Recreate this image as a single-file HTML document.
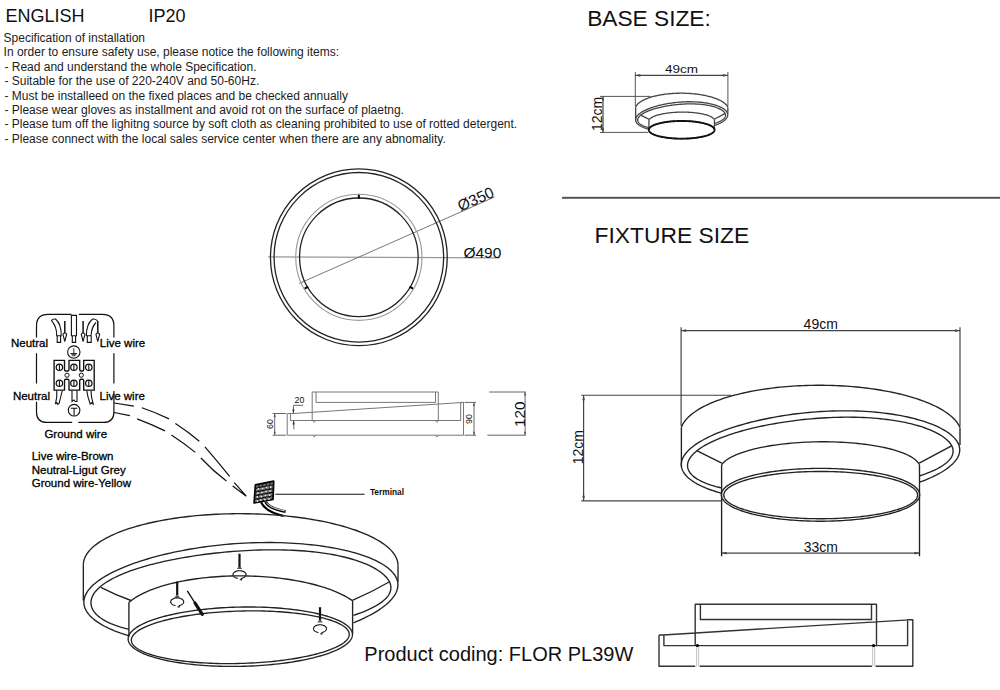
<!DOCTYPE html>
<html><head><meta charset="utf-8"><style>
html,body{margin:0;padding:0;background:#fff;width:1000px;height:690px;overflow:hidden}
svg{display:block}
text{font-family:"Liberation Sans",sans-serif}
</style></head><body>
<svg width="1000" height="690" viewBox="0 0 1000 690">
<text x="5.4" y="21.6" font-size="18" fill="#111" >ENGLISH</text>
<text x="148.5" y="21.6" font-size="18" fill="#111" >IP20</text>
<text x="3.6" y="41.9" font-size="12" fill="#1c1c1c" >Specification of installation</text>
<text x="3.6" y="55.8" font-size="12" fill="#1c1c1c" >In order to ensure safety use, please notice the following items:</text>
<text x="4.4" y="70.6" font-size="12" fill="#1c1c1c" >- Read and understand the whole Specification.</text>
<text x="4.4" y="84.5" font-size="12" fill="#1c1c1c" >- Suitable for the use of 220-240V and 50-60Hz.</text>
<text x="4.4" y="99.7" font-size="12" fill="#1c1c1c" >- Must be installeed on the fixed places and be checked annually</text>
<text x="4.4" y="113.7" font-size="12" fill="#1c1c1c" >- Please wear gloves as installment and avoid rot on the surface of plaetng.</text>
<text x="4.4" y="128.0" font-size="12" fill="#1c1c1c" >- Please tum off the lighitng source by soft cloth as cleaning prohibited to use of rotted detergent.</text>
<text x="4.4" y="142.8" font-size="12" fill="#1c1c1c" >- Please connect with the local sales service center when there are any abnomality.</text>
<text x="587.2" y="26.3" font-size="22" textLength="123.6" lengthAdjust="spacingAndGlyphs" fill="#111">BASE SIZE:</text>
<text x="594.6" y="243.2" font-size="22.8" fill="#111" >FIXTURE SIZE</text>
<rect x="562" y="196.8" width="438" height="2" fill="#555"/>
<text x="364.3" y="661" font-size="20" fill="#111" >Product coding: FLOR PL39W</text>
<path d="M681.1,327.3 L681.1,426 M960,327.3 L960,426 M581.3,395.25 L731,395.25 M581.3,500.8 L721.6,500.8" stroke="#444" stroke-width="1.2" fill="none"/>
<path d="M681.1,330.6 L960,330.6" stroke="#444" stroke-width="1.3" fill="none"/><g fill="#444"><path d="M681.10,330.60 L686.10,329.30 L686.10,331.90 Z"/><path d="M960.00,330.60 L955.00,331.90 L955.00,329.30 Z"/></g>
<path d="M583.6,395.25 L583.6,500.8" stroke="#444" stroke-width="1.2" fill="none"/><g fill="#444"><path d="M583.60,395.25 L584.90,400.25 L582.30,400.25 Z"/><path d="M583.60,500.80 L582.30,495.80 L584.90,495.80 Z"/></g>
<path d="M721.6,553.1 L919.5,553.1" stroke="#444" stroke-width="1.2" fill="none"/><g fill="#444"><path d="M721.60,553.10 L726.60,551.80 L726.60,554.40 Z"/><path d="M919.50,553.10 L914.50,554.40 L914.50,551.80 Z"/></g>
<text x="803.6" y="328.7" font-size="14" fill="#111" >49cm</text>
<text x="803.8" y="551.6" font-size="14" fill="#111" >33cm</text>
<text transform="translate(583.3,464.3) rotate(-90)" font-size="14" fill="#111">12cm</text>
<path d="M635.3,72 L635.3,106 M727.9,72 L727.9,106 M600,96.4 L650.4,96.4 M600,132.4 L648.3,132.4" stroke="#555" stroke-width="1" fill="none"/>
<path d="M635.3,75.4 L727.9,75.4" stroke="#444" stroke-width="1.3" fill="none"/><g fill="#444"><path d="M635.30,75.40 L640.30,74.10 L640.30,76.70 Z"/><path d="M727.90,75.40 L722.90,76.70 L722.90,74.10 Z"/></g>
<path d="M603,96.4 L603,132.4" stroke="#444" stroke-width="1.2" fill="none"/><g fill="#444"><path d="M603.00,96.40 L604.20,100.40 L601.80,100.40 Z"/><path d="M603.00,132.40 L601.80,128.40 L604.20,128.40 Z"/></g>
<text x="665" y="73" font-size="11" textLength="33" lengthAdjust="spacingAndGlyphs" fill="#111">49cm</text>
<text transform="translate(601.6,131) rotate(-90)" font-size="14" fill="#111">12cm</text>
<path d="M268.2,256.8 L499.8,257.8" stroke="#999" stroke-width="1.2" fill="none"/>
<path d="M299.3,283.4 L494.75,196.9" stroke="#777" stroke-width="1" fill="none"/>
<g fill="none"><circle cx="358.85" cy="257.3" r="88.4" stroke="#222" stroke-width="1.3"/><circle cx="358.85" cy="257.3" r="84.8" stroke="#222" stroke-width="1.3"/><circle cx="358.85" cy="257.3" r="63.1" stroke="#999" stroke-width="1.1"/><circle cx="358.85" cy="257.3" r="59.3" stroke="#222" stroke-width="1.3"/></g>
<path d="M358.85,198.80 L358.85,194.80 M409.51,286.55 L412.98,288.55 M308.19,286.55 L304.72,288.55" stroke="#000" stroke-width="2" fill="none"/>
<text x="463.4" y="257.8" font-size="15.5" fill="#111" >Ø490</text>
<text transform="translate(460.5,211.6) rotate(-23.9)" font-size="15.5" fill="#111">Ø350</text>
<path d="M312.2,420.6 L312.2,392 L438.3,392 L438.3,420.6 M316,392 L316,402.4 L435.5,402.4 L435.5,392 M293.4,413.5 L463.5,402.4 M287.2,413.5 L287.2,435.2 L463.5,435.2 L463.5,402.4 L460.7,402.4 L460.7,420.5 L290.4,420.5 L290.4,413.5 M287.2,413.5 L293.4,413.5" stroke="#777" stroke-width="1" fill="none"/>
<path d="M312.7,420.8 L314.2,422.3 L315.7,420.8 M312.7,435.5 L314.2,437.0 L315.7,435.5 M435.4,420.8 L436.9,422.3 L438.4,420.8 M435.4,435.5 L436.9,437.0 L438.4,435.5" stroke="#666" stroke-width="0.8" fill="none"/>
<path d="M272.6,413.5 L286,413.5 M272.6,435.2 L286,435.2 M464.5,402.4 L476.1,402.4 M464.5,435.2 L476.1,435.2 M489.4,392 L525.8,392 M487.3,435.2 L525.8,435.2" stroke="#666" stroke-width="1" fill="none"/>
<path d="M274.7,413.5 L274.7,435.2" stroke="#555" stroke-width="0.9" fill="none"/><g fill="#555"><path d="M274.70,413.50 L275.80,417.00 L273.60,417.00 Z"/><path d="M274.70,435.20 L273.60,431.70 L275.80,431.70 Z"/></g>
<path d="M474,402.4 L474,435.2" stroke="#555" stroke-width="0.9" fill="none"/><g fill="#555"><path d="M474.00,402.40 L475.10,405.90 L472.90,405.90 Z"/><path d="M474.00,435.20 L472.90,431.70 L475.10,431.70 Z"/></g>
<path d="M525.1,392 L525.1,435.2" stroke="#555" stroke-width="0.9" fill="none"/><g fill="#555"><path d="M525.10,392.00 L526.20,395.50 L524.00,395.50 Z"/><path d="M525.10,435.20 L524.00,431.70 L526.20,431.70 Z"/></g>
<path d="M303.1,405.3 L293.4,405.3 L293.4,413.5 M293.6,420.5 L294,429.3" stroke="#555" stroke-width="0.9" fill="none"/>
<g fill="#333"><path d="M293.40,413.50 L292.30,409.50 L294.50,409.50 Z"/><path d="M293.60,420.50 L294.70,424.50 L292.50,424.50 Z"/></g>
<text x="294.6" y="403.3" font-size="8.8" fill="#111" >20</text>
<text transform="translate(273.4,429) rotate(-90)" font-size="8.8" fill="#111">60</text>
<text transform="translate(472,424) rotate(-90)" font-size="8.8" fill="#111">90</text>
<text transform="translate(525,427) rotate(-90)" font-size="15.3" fill="#111">120</text>
<path d="M36.5,337.4 L36.5,325.8 Q36.5,314.3 48.0,314.3 L71.4,314.3 M78.9,314.3 L102.4,314.3 Q113.9,314.3 113.9,325.8 L113.9,337.4 M36.5,353.3 L36.5,383.5 M113.9,353.3 L113.9,383.5 M36.5,401.7 L36.5,411.9 Q36.5,422.4 47.0,422.4 L72.2,422.4 M78.3,422.4 L103.4,422.4 Q113.9,422.4 113.9,411.9 L113.9,390.9" stroke="#111" stroke-width="1.2" fill="none"/>
<path d="M71.4,335.8 L71.4,315.4 L76.5,315.4 L76.5,335.8 Z M72.3,335.8 L72.3,342.4 L75.6,342.4 L75.6,335.8 M51.6,320.6 Q52.5,318.6 55.5,319 Q61.5,324 61.2,335.8 L56.7,335.8 Q57,327 51.6,320.6 Z M57.2,335.8 L57.2,342.4 L60.6,342.4 L60.6,335.8 M97.8,321.4 Q96.2,318.6 92.6,319 Q86.3,324 86.4,335.8 L91,335.8 Q91.5,327 96,322.5 M87.3,335.8 L87.3,342.4 L91.2,342.4 L91.2,335.8" stroke="#111" stroke-width="1.1" fill="none"/>
<path d="M64.8,321.1 L64.8,333.5" stroke="#111" stroke-width="1.5"/><path d="M62.9,334.2 Q64.8,331.5 66.7,334.2 L64.8,341.3 Z" fill="#fff" stroke="#111" stroke-width="1.1" stroke-linejoin="round"/><path d="M83.1,321.1 L83.1,333.5" stroke="#111" stroke-width="1.5"/><path d="M81.19999999999999,334.2 Q83.1,331.5 85.0,334.2 L83.1,341.3 Z" fill="#fff" stroke="#111" stroke-width="1.1" stroke-linejoin="round"/><path d="M97.8,321.1 L97.8,333.5" stroke="#111" stroke-width="1.5"/><path d="M95.89999999999999,334.2 Q97.8,331.5 99.7,334.2 L97.8,341.3 Z" fill="#fff" stroke="#111" stroke-width="1.1" stroke-linejoin="round"/>
<circle cx="73.8" cy="352.1" r="6.2" stroke="#111" stroke-width="1.1" fill="none"/>
<path d="M73.8,348.2 L73.8,353.3 M70.5,353.5 L77.1,353.5 M71.3,354.7 L76.3,354.7 M72.3,355.8 L75.3,355.8" stroke="#111" stroke-width="0.9" fill="none"/>
<path d="M54.1,360.4 L64.5,360.4 L64.5,369.5 Q64.5,371 66,371 L67.5,371 Q69,371 69,369.5 L69,360.4 L79.7,360.4 L79.7,369.5 Q79.7,371 81.2,371 L82.2,371 Q83.7,371 83.7,369.5 L83.7,360.4 L94.2,360.4 L94.2,390.1 L83.7,390.1 L83.7,380.6 Q83.7,379.2 82.2,379.2 L81.2,379.2 Q79.7,379.2 79.7,380.6 L79.7,390.1 L69,390.1 L69,380.6 Q69,379.2 67.5,379.2 L66,379.2 Q64.5,379.2 64.5,380.6 L64.5,390.1 L54.1,390.1 Z" stroke="#111" stroke-width="1.35" fill="none"/>
<circle cx="59.4" cy="367.3" r="3.2" stroke="#111" stroke-width="1.25" fill="none"/><path d="M59.4,364.5 L59.4,370.1" stroke="#111" stroke-width="1.1"/><circle cx="59.4" cy="383.2" r="3.2" stroke="#111" stroke-width="1.25" fill="none"/><path d="M59.4,380.4 L59.4,386.0" stroke="#111" stroke-width="1.1"/><circle cx="73.9" cy="367.3" r="3.2" stroke="#111" stroke-width="1.25" fill="none"/><path d="M73.9,364.5 L73.9,370.1" stroke="#111" stroke-width="1.1"/><circle cx="73.9" cy="383.2" r="3.2" stroke="#111" stroke-width="1.25" fill="none"/><path d="M73.9,380.4 L73.9,386.0" stroke="#111" stroke-width="1.1"/><circle cx="88.8" cy="367.3" r="3.2" stroke="#111" stroke-width="1.25" fill="none"/><path d="M88.8,364.5 L88.8,370.1" stroke="#111" stroke-width="1.1"/><circle cx="88.8" cy="383.2" r="3.2" stroke="#111" stroke-width="1.25" fill="none"/><path d="M88.8,380.4 L88.8,386.0" stroke="#111" stroke-width="1.1"/><circle cx="67" cy="375.2" r="2.1" stroke="#111" stroke-width="1" fill="none"/><circle cx="81.3" cy="375.2" r="2.1" stroke="#111" stroke-width="1" fill="none"/>
<path d="M56.7,390.5 Q57.5,397 55.4,404 L56.8,402.6 L57.8,404.4 L59,403.5 Q60.8,397 62.3,390.5 M72,390.5 L72,401.5 L74,400 L75.3,401.5 L77,401.5 L77,390.5 M86.8,390.5 Q87.5,397 90.2,404 L91.5,402.8 L93.2,404 Q91,397 91,390.5" stroke="#111" stroke-width="1.1" fill="none"/>
<circle cx="74.1" cy="410.2" r="5.8" stroke="#111" stroke-width="1.1" fill="none"/><path d="M70.8,408.2 L77.4,408.2 M74.1,408.2 L74.1,415.5" stroke="#111" stroke-width="1.1" fill="none"/>
<text x="11" y="346.6" font-size="11.5" fill="#000"  stroke="#000" stroke-width="0.3">Neutral</text>
<text x="99.8" y="346.6" font-size="11.5" fill="#000"  stroke="#000" stroke-width="0.3">Live wire</text>
<text x="12.9" y="400" font-size="11.5" fill="#000"  stroke="#000" stroke-width="0.3">Neutral</text>
<text x="99.5" y="400" font-size="11.5" fill="#000"  stroke="#000" stroke-width="0.3">Live wire</text>
<text x="44.4" y="437.7" font-size="11.5" fill="#000"  stroke="#000" stroke-width="0.3">Ground wire</text>
<text x="31.7" y="460.3" font-size="11.5" fill="#000"  stroke="#000" stroke-width="0.3">Live wire-Brown</text>
<text x="31.7" y="473.9" font-size="11.5" fill="#000"  stroke="#000" stroke-width="0.3">Neutral-Ligut Grey</text>
<text x="31.7" y="487.3" font-size="11.5" fill="#000"  stroke="#000" stroke-width="0.3">Ground wire-Yellow</text>
<path d="M114,403 L133.9,406.2 M141.9,407.8 Q156,412.6 169,418.9 M175.4,423.4 Q188,431.5 199.3,441.2 M204.9,446.8 Q217.5,461.2 229.6,476.3 M234.3,482.7 L246.3,496.2 M114,412.5 L129.9,415.7 M137.1,418.9 Q151.5,424.3 165,430.9 M171.4,434.9 Q184,443 195.3,452.4 M200.9,458 Q212.5,470.5 226.4,481.1 M232.7,485.9 L246.3,496.2" stroke="#111" stroke-width="1.2" fill="none"/>
<path d="M255.4,484.8 L273.7,481.2 L273,499.4 L254.1,503 Z" fill="#777" stroke="#000" stroke-width="1.7" stroke-linejoin="round"/>
<path d="M255.1,488.4 L273.6,484.8 M259.1,484.1 L257.9,502.3 M254.9,492.1 L273.4,488.5 M262.7,483.4 L261.7,501.6 M254.6,495.7 L273.3,492.1 M266.4,482.6 L265.4,500.8 M254.4,499.4 L273.1,495.8 M270.0,481.9 L269.2,500.1" stroke="#111" stroke-width="1.1" fill="none"/>
<g fill="#eee"><circle cx="258.5" cy="489" r="0.9"/><circle cx="262.5" cy="488.5" r="0.9"/><circle cx="266.5" cy="487.5" r="0.9"/><circle cx="270.5" cy="487" r="0.9"/><circle cx="258" cy="493" r="0.9"/><circle cx="262" cy="492.5" r="0.9"/><circle cx="266" cy="491.5" r="0.9"/><circle cx="270" cy="491" r="0.9"/><circle cx="257.5" cy="497" r="0.9"/><circle cx="261.5" cy="496.5" r="0.9"/><circle cx="265.5" cy="495.5" r="0.9"/><circle cx="269.5" cy="495" r="0.9"/><circle cx="257.5" cy="501" r="0.9"/><circle cx="261" cy="500" r="0.9"/><circle cx="265" cy="499.5" r="0.9"/><circle cx="269" cy="499" r="0.9"/></g>
<path d="M261,502.3 Q266,512 283.5,516" stroke="#000" stroke-width="2.2" fill="none"/>
<path d="M265.5,501.8 Q269,508.5 285.6,511.6" stroke="#000" stroke-width="2.8" fill="none"/><path d="M266.2,502.5 Q269.5,508 284.8,510.9" stroke="#fff" stroke-width="0.9" fill="none"/>
<path d="M275.3,494.2 L364.6,494.2" stroke="#111" stroke-width="1.1"/>
<text x="369.9" y="494.7" font-size="8.35" fill="#111" font-weight="bold">Terminal</text>
<path d="M695.2,645.4 L695.2,604.3 L876.5,604.3 L876.5,645.4 M700.4,604.3 L700.4,619.5 L871.5,619.5 L871.5,604.3 M663.3,635 L912.8,619.6 M659,635 L659,666.3 L695.2,666.3 M699.6,666.3 L871.9,666.3 M875.6,666.3 L912.8,666.3 L912.8,619.6 L907.6,619.6 L907.6,645.6 L663.9,645.6 L663.9,635 M659,635 L663.9,635" stroke="#333" stroke-width="1.4" fill="none" stroke-linejoin="round"/>
<path d="M696.6,646.5 L696.6,666.3 M698.6,646.5 L698.6,666.3 M872.7,646.5 L872.7,666.3 M874.7,646.5 L874.7,666.3" stroke="#bbb" stroke-width="0.9" fill="none"/>
<circle cx="697.4" cy="645.5" r="1.6" fill="#000"/><circle cx="873.6" cy="645.5" r="1.6" fill="#000"/>
<g fill="none" stroke="#222" stroke-width="1.35" ><path d="M681.39,427.19 L681.86,426.04 L682.41,424.90 L683.04,423.75 L683.75,422.62 L684.54,421.49 L685.40,420.37 L686.34,419.25 L687.36,418.14 L688.45,417.05 L689.62,415.96 L690.87,414.88 L692.19,413.82 L693.58,412.76 L695.04,411.72 L696.58,410.69 L698.18,409.67 L699.86,408.67 L701.61,407.68 L703.42,406.71 L705.30,405.75 L707.25,404.81 L709.26,403.89 L711.34,402.98 L713.47,402.09 L715.67,401.22 L717.93,400.37 L720.25,399.53 L722.62,398.72 L725.05,397.93 L727.54,397.15 L730.08,396.40 L732.67,395.67 L735.31,394.96 L738.00,394.28 L740.74,393.61 L743.52,392.97 L746.34,392.35 L749.21,391.76 L752.12,391.19 L755.07,390.65 L758.06,390.13 L761.08,389.63 L764.14,389.16 L767.23,388.72 L770.35,388.30 L773.49,387.91 L776.67,387.54 L779.87,387.20 L783.09,386.89 L786.34,386.61 L789.60,386.35 L792.88,386.12 L796.18,385.91 L799.50,385.73 L802.82,385.59 L806.16,385.46 L809.50,385.37 L812.85,385.30 L816.20,385.27 L819.56,385.26 L822.92,385.27 L826.28,385.32 L829.63,385.39 L832.98,385.49 L836.32,385.62 L839.65,385.78 L842.98,385.96 L846.29,386.17 L849.58,386.41 L852.86,386.68 L856.12,386.97 L859.36,387.29 L862.58,387.63 L865.78,388.01 L868.95,388.41 L872.09,388.83 L875.20,389.28 L878.28,389.76 L881.33,390.26 L884.34,390.79 L887.32,391.34 L890.26,391.91 L893.16,392.51 L896.02,393.14 L898.84,393.78 L901.61,394.45 L904.34,395.14 L907.02,395.86 L909.65,396.59 L912.23,397.35 L914.75,398.13 L917.23,398.93 L919.65,399.75 L922.01,400.59 L924.31,401.44 L926.56,402.32 L928.74,403.21 L930.87,404.13 L932.93,405.05 L934.93,406.00 L936.86,406.96 L938.72,407.94 L940.52,408.93 L942.25,409.94 L943.92,410.96 L945.51,411.99 L947.03,413.03 L948.48,414.09 L949.85,415.16 L951.15,416.24 L952.38,417.33 L953.54,418.43 L954.61,419.54 L955.61,420.65 L956.54,421.78 L957.39,422.91 L958.15,424.05 L958.85,425.19 L959.46,426.34 L959.99,427.49"/><path d="M681.39,427.19 L681.39,466.50 M959.99,427.49 L959.99,445.00"/><path d="M721.26,493.12 L718.41,492.32 L715.65,491.49 L712.98,490.63 L710.39,489.74 L707.91,488.82 L705.51,487.87 L703.22,486.89 L701.03,485.89 L698.94,484.85 L696.95,483.80 L695.08,482.71 L693.31,481.61 L691.66,480.48 L690.12,479.33 L688.70,478.15 L687.40,476.96 L686.22,475.75 L685.17,474.52 L684.23,473.27 L683.43,472.01 L682.75,470.74 L682.19,469.45 L681.77,468.15 L681.48,466.84 L681.32,465.52 L681.28,464.20 L681.38,462.87 L681.61,461.53 L681.97,460.19 L682.45,458.85 L683.06,457.52 L683.80,456.18 L684.66,454.84 L685.65,453.51 L686.76,452.19 L687.98,450.87 L689.32,449.56 L690.77,448.26 L692.33,446.98 L694.00,445.70 L695.77,444.43 L697.65,443.18 L699.62,441.94 L701.69,440.72 L703.85,439.51 L706.10,438.32 L708.43,437.15 L710.85,435.99 L713.35,434.86 L715.93,433.74 L718.59,432.64 L721.32,431.56 L724.12,430.49 L726.99,429.45 L729.93,428.43 L732.93,427.43 L736.00,426.46 L739.13,425.50 L742.32,424.57 L745.58,423.66 L748.89,422.77 L752.26,421.91 L755.69,421.08 L759.17,420.26 L762.70,419.48 L766.29,418.72 L769.92,417.99 L773.61,417.29 L777.34,416.63 L781.12,415.99 L784.93,415.38 L788.79,414.81 L792.69,414.27 L796.62,413.77 L800.58,413.30 L804.57,412.87 L808.58,412.48 L812.62,412.13 L816.67,411.81 L820.73,411.54 L824.80,411.31 L828.88,411.13 L832.95,410.98 L837.02,410.88 L841.08,410.82 L845.13,410.81 L849.15,410.84 L853.16,410.91 L857.13,411.03 L861.07,411.19 L864.97,411.40 L868.83,411.64 L872.65,411.93 L876.41,412.27 L880.12,412.64 L883.78,413.05 L887.37,413.51 L890.90,414.00 L894.37,414.53 L897.77,415.10 L901.09,415.70 L904.34,416.34 L907.52,417.01 L910.62,417.72 L913.64,418.46 L916.58,419.23 L919.44,420.03 L922.21,420.86 L924.90,421.73 L927.50,422.61 L930.02,423.53 L932.44,424.47 L934.77,425.44 L937.02,426.43 L939.17,427.45 L941.22,428.49 L943.18,429.56 L945.04,430.64 L946.79,431.75 L948.45,432.88 L950.00,434.03 L951.45,435.20 L952.78,436.39 L954.01,437.60 L955.12,438.82 L956.12,440.06 L957.00,441.32 L957.77,442.59 L958.41,443.88 L958.92,445.18 L959.31,446.49 L959.58,447.81 L959.72,449.14 L959.72,450.48 L959.60,451.82 L959.34,453.17 L958.95,454.52 L958.44,455.88 L957.78,457.23 L957.00,458.59 L956.09,459.94 L955.04,461.28 L953.87,462.63 L952.57,463.96 L951.14,465.29 L949.59,466.60 L947.92,467.90 L946.13,469.20 L944.23,470.47 L942.22,471.73 L940.09,472.98 L937.87,474.20 L935.54,475.41 L933.11,476.60 L930.58,477.76 L927.97,478.91 L925.27,480.03 L922.48,481.13 L919.62,482.20"/><path d="M721.44,487.85 L718.72,487.22 L716.09,486.55 L713.56,485.84 L711.13,485.10 L708.82,484.33 L706.61,483.53 L704.53,482.70 L702.55,481.84 L700.70,480.95 L698.96,480.03 L697.35,479.09 L695.86,478.13 L694.50,477.15 L693.25,476.15 L692.14,475.13 L691.14,474.09 L690.27,473.04 L689.52,471.97 L688.89,470.90 L688.38,469.81 L687.99,468.71 L687.72,467.61 L687.56,466.49 L687.53,465.37 L687.60,464.25 L687.79,463.12 L688.09,462.00 L688.50,460.86 L689.02,459.73 L689.64,458.60 L690.37,457.48 L691.20,456.35 L692.14,455.23 L693.17,454.11 L694.31,453.00 L695.54,451.89 L696.87,450.79 L698.29,449.70 L699.80,448.61 L701.41,447.54 L703.10,446.47 L704.88,445.42 L706.75,444.38 L708.70,443.35 L710.73,442.33 L712.84,441.32 L715.03,440.33 L717.29,439.35 L719.63,438.39 L722.04,437.44 L724.52,436.51 L727.07,435.59 L729.68,434.69 L732.36,433.81 L735.10,432.95 L737.89,432.10 L740.75,431.27 L743.66,430.46 L746.63,429.67 L749.65,428.90 L752.72,428.15 L755.84,427.42 L759.00,426.71 L762.22,426.02 L765.48,425.35 L768.78,424.70 L772.12,424.07 L775.50,423.47 L778.93,422.89 L782.39,422.33 L785.88,421.80 L789.41,421.30 L792.97,420.81 L796.56,420.36 L800.18,419.93 L803.82,419.53 L807.49,419.16 L811.18,418.82 L814.88,418.51 L818.60,418.23 L822.33,417.98 L826.07,417.76 L829.81,417.57 L833.56,417.42 L837.30,417.31 L841.03,417.23 L844.75,417.18 L848.46,417.17 L852.14,417.20 L855.81,417.26 L859.44,417.36 L863.04,417.50 L866.61,417.67 L870.13,417.88 L873.61,418.13 L877.03,418.41 L880.41,418.73 L883.73,419.08 L886.99,419.47 L890.18,419.89 L893.31,420.34 L896.37,420.83 L899.36,421.34 L902.28,421.89 L905.13,422.46 L907.90,423.07 L910.59,423.70 L913.21,424.35 L915.74,425.04 L918.20,425.74 L920.58,426.47 L922.89,427.22 L925.11,427.99 L927.25,428.79 L929.32,429.60 L931.31,430.43 L933.21,431.28 L935.04,432.15 L936.79,433.04 L938.46,433.94 L940.05,434.86 L941.56,435.80 L942.99,436.75 L944.34,437.72 L945.59,438.71 L946.77,439.71 L947.85,440.72 L948.84,441.75 L949.73,442.79 L950.53,443.85 L951.23,444.92 L951.82,446.00 L952.31,447.10 L952.68,448.21 L952.94,449.33 L953.08,450.46 L953.10,451.60 L953.00,452.74 L952.76,453.90 L952.39,455.06 L951.89,456.22 L951.26,457.38 L950.48,458.55 L949.57,459.71 L948.51,460.87 L947.31,462.03 L945.98,463.18 L944.50,464.32 L942.88,465.45 L941.13,466.57 L939.25,467.67 L937.23,468.76 L935.09,469.83 L932.82,470.87 L930.44,471.90 L927.95,472.90 L925.35,473.88 L922.65,474.83 L919.86,475.75"/><path d="M696.8,450.7 Q708.4,456.6 721.8,463.2"/><path d="M952,445.6 Q935.8,454.2 919.2,463.1"/><path d="M721.60,464.84 L721.59,464.84 L722.28,463.89 L723.10,462.95 L724.04,462.01 L725.11,461.08 L726.29,460.17 L727.59,459.26 L729.01,458.36 L730.54,457.48 L732.19,456.62 L733.95,455.77 L735.82,454.93 L737.80,454.11 L739.88,453.31 L742.06,452.54 L744.34,451.78 L746.72,451.04 L749.19,450.33 L751.75,449.64 L754.39,448.97 L757.12,448.33 L759.93,447.71 L762.82,447.12 L765.77,446.56 L768.80,446.03 L771.89,445.53 L775.05,445.05 L778.26,444.61 L781.52,444.19 L784.83,443.81 L788.19,443.46 L791.59,443.14 L795.02,442.86 L798.49,442.60 L801.98,442.38 L805.49,442.20 L809.03,442.05 L812.57,441.93 L816.13,441.84 L819.69,441.79 L823.26,441.78 L826.82,441.79 L830.37,441.85 L833.90,441.93 L837.42,442.05 L840.92,442.21 L844.39,442.40 L847.83,442.62 L851.24,442.88 L854.61,443.16 L857.93,443.48 L861.20,443.84 L864.42,444.22 L867.59,444.64 L870.70,445.08 L873.74,445.56 L876.71,446.07 L879.61,446.60 L882.44,447.16 L885.18,447.75 L887.85,448.37 L890.43,449.01 L892.92,449.68 L895.31,450.37 L897.62,451.09 L899.82,451.83 L901.92,452.59 L903.92,453.37 L905.81,454.17 L907.60,454.99 L909.27,455.82 L910.83,456.68 L912.27,457.54 L913.60,458.43 L914.81,459.32 L915.90,460.23 L916.87,461.15 L917.71,462.07 L918.43,463.01 L919.03,463.96 L919.50,464.91 L919.50,464.91 L919.50,494.80 L919.70,494.80 L919.62,495.84 L919.39,496.88 L919.01,497.91 L918.48,498.94 L917.79,499.96 L916.96,500.97 L915.98,501.98 L914.84,502.97 L913.57,503.95 L912.15,504.92 L910.59,505.87 L908.89,506.81 L907.05,507.72 L905.08,508.62 L902.98,509.49 L900.75,510.35 L898.40,511.18 L895.93,511.98 L893.34,512.75 L890.64,513.50 L887.84,514.22 L884.93,514.91 L881.91,515.57 L878.81,516.20 L875.61,516.79 L872.33,517.35 L868.97,517.88 L865.54,518.37 L862.03,518.82 L858.46,519.24 L854.83,519.62 L851.15,519.96 L847.43,520.26 L843.66,520.52 L839.85,520.74 L836.02,520.92 L832.16,521.07 L828.28,521.17 L824.39,521.23 L820.50,521.25 L816.61,521.23 L812.72,521.17 L808.84,521.07 L804.98,520.92 L801.15,520.74 L797.34,520.52 L793.57,520.26 L789.85,519.96 L786.17,519.62 L782.54,519.24 L778.97,518.82 L775.46,518.37 L772.03,517.88 L768.67,517.35 L765.39,516.79 L762.19,516.20 L759.09,515.57 L756.07,514.91 L753.16,514.22 L750.36,513.50 L747.66,512.75 L745.07,511.98 L742.60,511.18 L740.25,510.35 L738.02,509.49 L735.92,508.62 L733.95,507.72 L732.11,506.81 L730.41,505.87 L728.85,504.92 L727.43,503.95 L726.16,502.97 L725.02,501.98 L724.04,500.97 L723.21,499.96 L722.52,498.94 L721.99,497.91 L721.61,496.88 L721.38,495.84 L721.30,494.80 L721.60,494.80 Z" fill="#fff" stroke="none"/><path d="M721.59,464.84 L722.28,463.89 L723.10,462.95 L724.04,462.01 L725.11,461.08 L726.29,460.17 L727.59,459.26 L729.01,458.36 L730.54,457.48 L732.19,456.62 L733.95,455.77 L735.82,454.93 L737.80,454.11 L739.88,453.31 L742.06,452.54 L744.34,451.78 L746.72,451.04 L749.19,450.33 L751.75,449.64 L754.39,448.97 L757.12,448.33 L759.93,447.71 L762.82,447.12 L765.77,446.56 L768.80,446.03 L771.89,445.53 L775.05,445.05 L778.26,444.61 L781.52,444.19 L784.83,443.81 L788.19,443.46 L791.59,443.14 L795.02,442.86 L798.49,442.60 L801.98,442.38 L805.49,442.20 L809.03,442.05 L812.57,441.93 L816.13,441.84 L819.69,441.79 L823.26,441.78 L826.82,441.79 L830.37,441.85 L833.90,441.93 L837.42,442.05 L840.92,442.21 L844.39,442.40 L847.83,442.62 L851.24,442.88 L854.61,443.16 L857.93,443.48 L861.20,443.84 L864.42,444.22 L867.59,444.64 L870.70,445.08 L873.74,445.56 L876.71,446.07 L879.61,446.60 L882.44,447.16 L885.18,447.75 L887.85,448.37 L890.43,449.01 L892.92,449.68 L895.31,450.37 L897.62,451.09 L899.82,451.83 L901.92,452.59 L903.92,453.37 L905.81,454.17 L907.60,454.99 L909.27,455.82 L910.83,456.68 L912.27,457.54 L913.60,458.43 L914.81,459.32 L915.90,460.23 L916.87,461.15 L917.71,462.07 L918.43,463.01 L919.03,463.96 L919.50,464.91"/><path d="M721.60,464.84 L721.60,556.30 M919.50,464.91 L919.50,556.30"/><path d="M919.70,494.80 L919.65,495.63 L919.50,496.46 L919.26,497.29 L918.92,498.12 L918.48,498.94 L917.94,499.76 L917.31,500.57 L916.58,501.38 L915.76,502.18 L914.84,502.97 L913.84,503.76 L912.73,504.54 L911.54,505.30 L910.26,506.06 L908.89,506.81 L907.43,507.54 L905.89,508.26 L904.26,508.97 L902.55,509.67 L900.75,510.35 L898.88,511.01 L896.93,511.66 L894.91,512.29 L892.81,512.91 L890.64,513.50 L888.41,514.08 L886.10,514.64 L883.73,515.18 L881.30,515.70 L878.81,516.20 L876.26,516.68 L873.65,517.13 L871.00,517.57 L868.29,517.98 L865.54,518.37 L862.74,518.73 L859.90,519.07 L857.02,519.39 L854.10,519.69 L851.15,519.96 L848.18,520.20 L845.17,520.42 L842.14,520.61 L839.09,520.78 L836.02,520.92 L832.93,521.04 L829.84,521.13 L826.73,521.20 L823.62,521.24 L820.50,521.25 L817.38,521.24 L814.27,521.20 L811.16,521.13 L808.07,521.04 L804.98,520.92 L801.91,520.78 L798.86,520.61 L795.83,520.42 L792.82,520.20 L789.85,519.96 L786.90,519.69 L783.98,519.39 L781.10,519.07 L778.26,518.73 L775.46,518.37 L772.71,517.98 L770.00,517.57 L767.35,517.13 L764.74,516.68 L762.19,516.20 L759.70,515.70 L757.27,515.18 L754.90,514.64 L752.59,514.08 L750.36,513.50 L748.19,512.91 L746.09,512.29 L744.07,511.66 L742.12,511.01 L740.25,510.35 L738.45,509.67 L736.74,508.97 L735.11,508.26 L733.57,507.54 L732.11,506.81 L730.74,506.06 L729.46,505.30 L728.27,504.54 L727.16,503.76 L726.16,502.97 L725.24,502.18 L724.42,501.38 L723.69,500.57 L723.06,499.76 L722.52,498.94 L722.08,498.12 L721.74,497.29 L721.50,496.46 L721.35,495.63 L721.30,494.80 L721.35,493.97 L721.50,493.14 L721.74,492.31 L722.08,491.48 L722.52,490.66 L723.06,489.84 L723.69,489.03 L724.42,488.22 L725.24,487.42 L726.16,486.63 L727.16,485.84 L728.27,485.06 L729.46,484.30 L730.74,483.54 L732.11,482.79 L733.57,482.06 L735.11,481.34 L736.74,480.63 L738.45,479.93 L740.25,479.25 L742.12,478.59 L744.07,477.94 L746.09,477.31 L748.19,476.69 L750.36,476.10 L752.59,475.52 L754.90,474.96 L757.27,474.42 L759.70,473.90 L762.19,473.40 L764.74,472.92 L767.35,472.47 L770.00,472.03 L772.71,471.62 L775.46,471.23 L778.26,470.87 L781.10,470.53 L783.98,470.21 L786.90,469.91 L789.85,469.64 L792.82,469.40 L795.83,469.18 L798.86,468.99 L801.91,468.82 L804.98,468.68 L808.07,468.56 L811.16,468.47 L814.27,468.40 L817.38,468.36 L820.50,468.35 L823.62,468.36 L826.73,468.40 L829.84,468.47 L832.93,468.56 L836.02,468.68 L839.09,468.82 L842.14,468.99 L845.17,469.18 L848.18,469.40 L851.15,469.64 L854.10,469.91 L857.02,470.21 L859.90,470.53 L862.74,470.87 L865.54,471.23 L868.29,471.62 L871.00,472.03 L873.65,472.47 L876.26,472.92 L878.81,473.40 L881.30,473.90 L883.73,474.42 L886.10,474.96 L888.41,475.52 L890.64,476.10 L892.81,476.69 L894.91,477.31 L896.93,477.94 L898.88,478.59 L900.75,479.25 L902.55,479.93 L904.26,480.63 L905.89,481.34 L907.43,482.06 L908.89,482.79 L910.26,483.54 L911.54,484.30 L912.73,485.06 L913.84,485.84 L914.84,486.63 L915.76,487.42 L916.58,488.22 L917.31,489.03 L917.94,489.84 L918.48,490.66 L918.92,491.48 L919.26,492.31 L919.50,493.14 L919.65,493.97 L919.70,494.80Z"/><path d="M917.60,495.10 L917.55,495.84 L917.41,496.58 L917.17,497.33 L916.84,498.06 L916.41,498.80 L915.88,499.53 L915.27,500.26 L914.56,500.98 L913.75,501.70 L912.86,502.41 L911.87,503.11 L910.80,503.81 L909.63,504.49 L908.38,505.17 L907.04,505.84 L905.61,506.49 L904.11,507.14 L902.52,507.77 L900.84,508.39 L899.09,509.00 L897.27,509.60 L895.36,510.18 L893.39,510.74 L891.34,511.29 L889.22,511.82 L887.03,512.34 L884.78,512.84 L882.47,513.32 L880.09,513.79 L877.66,514.23 L875.17,514.66 L872.62,515.07 L870.03,515.46 L867.38,515.82 L864.69,516.17 L861.96,516.50 L859.18,516.80 L856.37,517.09 L853.52,517.35 L850.64,517.59 L847.73,517.81 L844.80,518.01 L841.84,518.18 L838.86,518.33 L835.86,518.46 L832.84,518.56 L829.82,518.65 L826.78,518.70 L823.74,518.74 L820.70,518.75 L817.66,518.74 L814.62,518.70 L811.58,518.65 L808.56,518.56 L805.54,518.46 L802.54,518.33 L799.56,518.18 L796.60,518.01 L793.67,517.81 L790.76,517.59 L787.88,517.35 L785.03,517.09 L782.22,516.80 L779.44,516.50 L776.71,516.17 L774.02,515.82 L771.37,515.46 L768.78,515.07 L766.23,514.66 L763.74,514.23 L761.31,513.79 L758.93,513.32 L756.62,512.84 L754.37,512.34 L752.18,511.82 L750.06,511.29 L748.01,510.74 L746.04,510.18 L744.13,509.60 L742.31,509.00 L740.56,508.39 L738.88,507.77 L737.29,507.14 L735.79,506.49 L734.36,505.84 L733.02,505.17 L731.77,504.49 L730.60,503.81 L729.53,503.11 L728.54,502.41 L727.65,501.70 L726.84,500.98 L726.13,500.26 L725.52,499.53 L724.99,498.80 L724.56,498.06 L724.23,497.33 L723.99,496.58 L723.85,495.84 L723.80,495.10 L723.85,494.36 L723.99,493.62 L724.23,492.87 L724.56,492.14 L724.99,491.40 L725.52,490.67 L726.13,489.94 L726.84,489.22 L727.65,488.50 L728.54,487.79 L729.53,487.09 L730.60,486.39 L731.77,485.71 L733.02,485.03 L734.36,484.36 L735.79,483.71 L737.29,483.06 L738.88,482.43 L740.56,481.81 L742.31,481.20 L744.13,480.60 L746.04,480.02 L748.01,479.46 L750.06,478.91 L752.18,478.38 L754.37,477.86 L756.62,477.36 L758.93,476.88 L761.31,476.41 L763.74,475.97 L766.23,475.54 L768.78,475.13 L771.37,474.74 L774.02,474.38 L776.71,474.03 L779.44,473.70 L782.22,473.40 L785.03,473.11 L787.88,472.85 L790.76,472.61 L793.67,472.39 L796.60,472.19 L799.56,472.02 L802.54,471.87 L805.54,471.74 L808.56,471.64 L811.58,471.55 L814.62,471.50 L817.66,471.46 L820.70,471.45 L823.74,471.46 L826.78,471.50 L829.82,471.55 L832.84,471.64 L835.86,471.74 L838.86,471.87 L841.84,472.02 L844.80,472.19 L847.73,472.39 L850.64,472.61 L853.52,472.85 L856.37,473.11 L859.18,473.40 L861.96,473.70 L864.69,474.03 L867.38,474.38 L870.03,474.74 L872.62,475.13 L875.17,475.54 L877.66,475.97 L880.09,476.41 L882.47,476.88 L884.78,477.36 L887.03,477.86 L889.22,478.38 L891.34,478.91 L893.39,479.46 L895.36,480.02 L897.27,480.60 L899.09,481.20 L900.84,481.81 L902.52,482.43 L904.11,483.06 L905.61,483.71 L907.04,484.36 L908.38,485.03 L909.63,485.71 L910.80,486.39 L911.87,487.09 L912.86,487.79 L913.75,488.50 L914.56,489.22 L915.27,489.94 L915.88,490.67 L916.41,491.40 L916.84,492.14 L917.17,492.87 L917.41,493.62 L917.55,494.36 L917.60,495.10Z"/></g>
<g fill="none" stroke="#222" stroke-width="1.35" ><path d="M83.34,564.75 L83.40,563.40 L83.56,562.05 L83.84,560.71 L84.22,559.37 L84.70,558.03 L85.30,556.70 L86.00,555.38 L86.80,554.06 L87.72,552.75 L88.73,551.44 L89.86,550.15 L91.08,548.87 L92.41,547.59 L93.84,546.33 L95.37,545.09 L96.99,543.85 L98.72,542.63 L100.55,541.43 L102.47,540.24 L104.48,539.07 L106.59,537.92 L108.79,536.79 L111.08,535.67 L113.46,534.58 L115.93,533.50 L118.48,532.45 L121.12,531.42 L123.84,530.42 L126.64,529.44 L129.51,528.48 L132.47,527.54 L135.49,526.64 L138.59,525.76 L141.76,524.90 L145.00,524.08 L148.30,523.28 L151.67,522.51 L155.09,521.77 L158.58,521.06 L162.12,520.38 L165.71,519.73 L169.36,519.11 L173.06,518.53 L176.80,517.97 L180.58,517.45 L184.41,516.96 L188.28,516.50 L192.18,516.08 L196.11,515.69 L200.08,515.33 L204.07,515.01 L208.09,514.72 L212.13,514.47 L216.19,514.25 L220.27,514.07 L224.36,513.92 L228.46,513.81 L232.57,513.73 L236.69,513.69 L240.81,513.68 L244.92,513.71 L249.04,513.77 L253.15,513.87 L257.25,514.00 L261.34,514.17 L265.42,514.37 L269.48,514.61 L273.52,514.88 L277.53,515.19 L281.52,515.53 L285.49,515.91 L289.42,516.32 L293.32,516.76 L297.18,517.24 L301.01,517.74 L304.79,518.28 L308.53,518.86 L312.22,519.46 L315.87,520.10 L319.46,520.77 L323.00,521.46 L326.48,522.19 L329.90,522.95 L333.26,523.73 L336.56,524.55 L339.79,525.39 L342.96,526.26 L346.05,527.15 L349.08,528.07 L352.02,529.02 L354.90,529.99 L357.69,530.99 L360.40,532.01 L363.03,533.05 L365.58,534.11 L368.04,535.20 L370.42,536.31 L372.70,537.43 L374.90,538.58 L377.00,539.74 L379.01,540.92 L380.93,542.11 L382.75,543.33 L384.47,544.55 L386.09,545.80 L387.61,547.05 L389.04,548.32 L390.36,549.60 L391.58,550.89 L392.69,552.19 L393.70,553.49 L394.61,554.81 L395.41,556.13 L396.10,557.46 L396.69,558.80 L397.17,560.13 L397.54,561.48 L397.81,562.82 L397.97,564.17 L398.02,565.51"/><path d="M83.34,564.75 L83.34,600.50 M398.02,565.51 L398.02,582.00"/><path d="M129.25,635.82 L126.08,634.87 L123.02,633.88 L120.06,632.87 L117.22,631.83 L114.48,630.77 L111.86,629.67 L109.34,628.56 L106.94,627.41 L104.64,626.25 L102.46,625.06 L100.40,623.85 L98.44,622.62 L96.61,621.37 L94.89,620.10 L93.28,618.81 L91.80,617.51 L90.44,616.18 L89.20,614.84 L88.09,613.48 L87.10,612.11 L86.24,610.72 L85.51,609.32 L84.91,607.91 L84.44,606.48 L84.11,605.05 L83.91,603.61 L83.84,602.16 L83.92,600.70 L84.13,599.23 L84.47,597.77 L84.95,596.29 L85.57,594.82 L86.33,593.35 L87.22,591.88 L88.24,590.41 L89.40,588.95 L90.69,587.49 L92.11,586.03 L93.66,584.59 L95.33,583.16 L97.12,581.73 L99.04,580.32 L101.07,578.92 L103.22,577.53 L105.48,576.16 L107.85,574.80 L110.33,573.46 L112.91,572.14 L115.59,570.84 L118.37,569.56 L121.24,568.29 L124.21,567.05 L127.27,565.83 L130.41,564.63 L133.64,563.45 L136.96,562.30 L140.35,561.17 L143.82,560.07 L147.37,558.99 L150.99,557.93 L154.68,556.91 L158.44,555.91 L162.27,554.94 L166.17,554.00 L170.13,553.09 L174.15,552.21 L178.23,551.37 L182.36,550.55 L186.55,549.77 L190.79,549.03 L195.08,548.32 L199.41,547.65 L203.79,547.01 L208.20,546.41 L212.65,545.86 L217.13,545.34 L221.64,544.86 L226.17,544.43 L230.72,544.04 L235.29,543.69 L239.86,543.39 L244.45,543.13 L249.03,542.92 L253.61,542.75 L258.19,542.63 L262.75,542.55 L267.30,542.52 L271.83,542.53 L276.33,542.60 L280.80,542.70 L285.23,542.86 L289.63,543.06 L293.99,543.30 L298.30,543.59 L302.56,543.92 L306.77,544.30 L310.92,544.72 L315.01,545.19 L319.03,545.69 L322.99,546.24 L326.88,546.83 L330.69,547.46 L334.43,548.13 L338.10,548.84 L341.67,549.59 L345.17,550.37 L348.58,551.20 L351.90,552.06 L355.13,552.95 L358.26,553.89 L361.29,554.85 L364.23,555.85 L367.06,556.89 L369.79,557.95 L372.40,559.05 L374.91,560.18 L377.30,561.35 L379.57,562.54 L381.73,563.76 L383.76,565.01 L385.67,566.29 L387.45,567.59 L389.09,568.92 L390.60,570.28 L391.98,571.66 L393.22,573.06 L394.32,574.48 L395.27,575.93 L396.08,577.39 L396.74,578.87 L397.26,580.36 L397.63,581.87 L397.85,583.40 L397.92,584.93 L397.83,586.47 L397.60,588.03 L397.22,589.59 L396.69,591.15 L396.00,592.72 L395.17,594.30 L394.20,595.87 L393.07,597.44 L391.81,599.01 L390.40,600.58 L388.85,602.14 L387.16,603.70 L385.33,605.25 L383.37,606.79 L381.27,608.31 L379.04,609.83 L376.69,611.34 L374.21,612.83 L371.61,614.30 L368.88,615.76 L366.03,617.21 L363.07,618.63 L359.99,620.03 L356.79,621.42 L353.49,622.78"/><path d="M129.06,629.32 L126.10,628.59 L123.25,627.83 L120.52,627.04 L117.91,626.21 L115.42,625.35 L113.05,624.46 L110.81,623.53 L108.69,622.58 L106.70,621.61 L104.83,620.61 L103.09,619.58 L101.47,618.54 L99.97,617.47 L98.59,616.39 L97.33,615.29 L96.19,614.17 L95.16,613.04 L94.25,611.90 L93.46,610.74 L92.77,609.57 L92.20,608.40 L91.74,607.21 L91.38,606.01 L91.14,604.81 L91.00,603.59 L90.97,602.37 L91.05,601.15 L91.25,599.92 L91.55,598.68 L91.96,597.44 L92.48,596.19 L93.12,594.95 L93.87,593.70 L94.73,592.45 L95.72,591.20 L96.81,589.95 L98.03,588.70 L99.36,587.45 L100.82,586.21 L102.39,584.97 L104.08,583.74 L105.89,582.52 L107.82,581.31 L109.87,580.10 L112.03,578.91 L114.31,577.73 L116.70,576.56 L119.20,575.41 L121.81,574.27 L124.52,573.16 L127.34,572.06 L130.26,570.98 L133.27,569.92 L136.38,568.88 L139.57,567.87 L142.85,566.88 L146.20,565.91 L149.64,564.96 L153.14,564.05 L156.72,563.15 L160.35,562.29 L164.05,561.45 L167.81,560.63 L171.62,559.84 L175.48,559.08 L179.39,558.35 L183.34,557.65 L187.33,556.97 L191.37,556.32 L195.43,555.70 L199.54,555.10 L203.67,554.54 L207.83,554.00 L212.02,553.49 L216.23,553.02 L220.46,552.57 L224.71,552.16 L228.98,551.77 L233.27,551.42 L237.56,551.10 L241.86,550.82 L246.17,550.57 L250.48,550.35 L254.78,550.17 L259.08,550.03 L263.37,549.92 L267.65,549.85 L271.91,549.82 L276.14,549.83 L280.35,549.88 L284.52,549.97 L288.66,550.10 L292.75,550.27 L296.79,550.48 L300.78,550.73 L304.72,551.03 L308.59,551.36 L312.40,551.73 L316.13,552.14 L319.79,552.59 L323.38,553.08 L326.88,553.61 L330.30,554.17 L333.63,554.77 L336.87,555.40 L340.02,556.06 L343.07,556.76 L346.04,557.48 L348.91,558.24 L351.68,559.02 L354.37,559.83 L356.95,560.66 L359.45,561.52 L361.84,562.40 L364.15,563.31 L366.37,564.24 L368.49,565.18 L370.53,566.15 L372.47,567.13 L374.32,568.14 L376.09,569.16 L377.76,570.20 L379.35,571.26 L380.84,572.33 L382.25,573.42 L383.56,574.53 L384.77,575.66 L385.88,576.80 L386.90,577.95 L387.81,579.13 L388.61,580.31 L389.30,581.52 L389.88,582.74 L390.33,583.97 L390.66,585.22 L390.86,586.48 L390.92,587.75 L390.85,589.03 L390.63,590.32 L390.27,591.62 L389.75,592.93 L389.08,594.24 L388.25,595.56 L387.26,596.88 L386.10,598.20 L384.79,599.51 L383.30,600.82 L381.65,602.12 L379.84,603.42 L377.87,604.70 L375.74,605.96 L373.45,607.21 L371.00,608.45 L368.41,609.66 L365.68,610.84 L362.81,612.01 L359.81,613.14 L356.69,614.25 L353.46,615.32"/><path d="M100.8,587.4 Q115.5,595 131,600.5"/><path d="M390,581.5 Q371,592.5 352.4,600.4"/><path d="M128.90,602.51 L128.89,602.51 L130.23,601.36 L131.67,600.23 L133.21,599.12 L134.83,598.02 L136.54,596.94 L138.34,595.87 L140.23,594.83 L142.20,593.81 L144.25,592.81 L146.39,591.83 L148.60,590.87 L150.89,589.94 L153.26,589.03 L155.71,588.15 L158.22,587.29 L160.81,586.46 L163.46,585.65 L166.18,584.88 L168.96,584.13 L171.80,583.41 L174.70,582.72 L177.66,582.07 L180.67,581.44 L183.74,580.84 L186.85,580.28 L190.01,579.75 L193.21,579.25 L196.45,578.78 L199.73,578.35 L203.05,577.95 L206.40,577.59 L209.78,577.26 L213.19,576.97 L216.62,576.71 L220.07,576.48 L223.55,576.29 L227.03,576.14 L230.54,576.02 L234.05,575.94 L237.57,575.90 L241.09,575.89 L244.62,575.92 L248.14,575.98 L251.66,576.08 L255.17,576.21 L258.67,576.38 L262.16,576.59 L265.63,576.83 L269.09,577.11 L272.52,577.42 L275.93,577.76 L279.31,578.14 L282.66,578.56 L285.98,579.01 L289.26,579.49 L292.51,580.00 L295.71,580.55 L298.87,581.13 L301.98,581.74 L305.05,582.38 L308.06,583.06 L311.02,583.76 L313.92,584.49 L316.77,585.26 L319.55,586.04 L322.27,586.86 L324.93,587.71 L327.52,588.58 L330.03,589.47 L332.48,590.39 L334.85,591.34 L337.15,592.31 L339.36,593.30 L341.50,594.31 L343.56,595.34 L345.53,596.39 L347.42,597.47 L349.22,598.56 L350.94,599.66 L352.56,600.79 L352.60,600.79 L352.60,636.70 L352.48,634.35 L352.41,635.52 L352.18,636.68 L351.77,637.85 L351.19,639.02 L350.44,640.18 L349.52,641.34 L348.43,642.48 L347.18,643.63 L345.76,644.76 L344.17,645.87 L342.43,646.98 L340.53,648.06 L338.48,649.13 L336.27,650.19 L333.92,651.22 L331.42,652.22 L328.78,653.21 L326.00,654.17 L323.09,655.10 L320.06,656.00 L316.90,656.87 L313.62,657.72 L310.23,658.52 L306.74,659.30 L303.14,660.04 L299.44,660.75 L295.65,661.42 L291.78,662.05 L287.83,662.64 L283.80,663.19 L279.71,663.70 L275.55,664.17 L271.35,664.59 L267.09,664.98 L262.79,665.32 L258.46,665.61 L254.10,665.86 L249.72,666.07 L245.32,666.23 L240.92,666.34 L236.52,666.41 L232.12,666.44 L227.73,666.41 L223.37,666.35 L219.02,666.23 L214.72,666.07 L210.45,665.87 L206.23,665.62 L202.06,665.32 L197.95,664.99 L193.90,664.60 L189.93,664.18 L186.03,663.71 L182.22,663.20 L178.49,662.65 L174.87,662.06 L171.34,661.43 L167.92,660.77 L164.61,660.06 L161.42,659.32 L158.35,658.55 L155.40,657.74 L152.59,656.90 L149.91,656.02 L147.37,655.12 L144.98,654.19 L142.73,653.23 L140.63,652.25 L138.69,651.24 L136.90,650.21 L135.27,649.16 L133.81,648.10 L132.50,647.01 L131.37,645.90 L130.40,644.79 L129.60,643.66 L128.98,642.52 L128.52,641.37 L128.24,640.21 L128.12,639.05 L128.90,636.70 Z" fill="#fff" stroke="none"/><path d="M128.89,602.51 L130.23,601.36 L131.67,600.23 L133.21,599.12 L134.83,598.02 L136.54,596.94 L138.34,595.87 L140.23,594.83 L142.20,593.81 L144.25,592.81 L146.39,591.83 L148.60,590.87 L150.89,589.94 L153.26,589.03 L155.71,588.15 L158.22,587.29 L160.81,586.46 L163.46,585.65 L166.18,584.88 L168.96,584.13 L171.80,583.41 L174.70,582.72 L177.66,582.07 L180.67,581.44 L183.74,580.84 L186.85,580.28 L190.01,579.75 L193.21,579.25 L196.45,578.78 L199.73,578.35 L203.05,577.95 L206.40,577.59 L209.78,577.26 L213.19,576.97 L216.62,576.71 L220.07,576.48 L223.55,576.29 L227.03,576.14 L230.54,576.02 L234.05,575.94 L237.57,575.90 L241.09,575.89 L244.62,575.92 L248.14,575.98 L251.66,576.08 L255.17,576.21 L258.67,576.38 L262.16,576.59 L265.63,576.83 L269.09,577.11 L272.52,577.42 L275.93,577.76 L279.31,578.14 L282.66,578.56 L285.98,579.01 L289.26,579.49 L292.51,580.00 L295.71,580.55 L298.87,581.13 L301.98,581.74 L305.05,582.38 L308.06,583.06 L311.02,583.76 L313.92,584.49 L316.77,585.26 L319.55,586.04 L322.27,586.86 L324.93,587.71 L327.52,588.58 L330.03,589.47 L332.48,590.39 L334.85,591.34 L337.15,592.31 L339.36,593.30 L341.50,594.31 L343.56,595.34 L345.53,596.39 L347.42,597.47 L349.22,598.56 L350.94,599.66 L352.56,600.79"/><path d="M128.90,602.51 L128.90,636.40 M352.60,600.79 L352.60,634.00"/><path d="M352.48,634.35 L352.44,635.28 L352.29,636.22 L352.04,637.15 L351.67,638.08 L351.19,639.02 L350.60,639.95 L349.91,640.87 L349.11,641.80 L348.19,642.71 L347.18,643.63 L346.05,644.53 L344.83,645.43 L343.50,646.32 L342.06,647.20 L340.53,648.06 L338.90,648.92 L337.17,649.77 L335.35,650.60 L333.43,651.42 L331.42,652.22 L329.32,653.01 L327.13,653.78 L324.85,654.54 L322.50,655.28 L320.06,656.00 L317.54,656.70 L314.95,657.38 L312.28,658.04 L309.54,658.68 L306.74,659.30 L303.87,659.90 L300.93,660.47 L297.94,661.02 L294.89,661.54 L291.78,662.05 L288.62,662.52 L285.42,662.97 L282.17,663.40 L278.88,663.80 L275.55,664.17 L272.19,664.51 L268.80,664.83 L265.38,665.12 L261.93,665.38 L258.46,665.61 L254.98,665.82 L251.47,665.99 L247.96,666.14 L244.44,666.26 L240.92,666.34 L237.40,666.40 L233.88,666.43 L230.36,666.43 L226.86,666.40 L223.37,666.35 L219.89,666.26 L216.44,666.14 L213.00,666.00 L209.60,665.82 L206.23,665.62 L202.89,665.39 L199.58,665.13 L196.32,664.84 L193.10,664.52 L189.93,664.18 L186.80,663.81 L183.73,663.41 L180.72,662.99 L177.76,662.54 L174.87,662.06 L172.04,661.56 L169.28,661.04 L166.58,660.49 L163.96,659.92 L161.42,659.32 L158.95,658.71 L156.57,658.07 L154.26,657.41 L152.04,656.73 L149.91,656.02 L147.87,655.31 L145.92,654.57 L144.06,653.81 L142.30,653.04 L140.63,652.25 L139.07,651.45 L137.60,650.63 L136.23,649.80 L134.97,648.95 L133.81,648.10 L132.75,647.23 L131.80,646.35 L130.96,645.46 L130.23,644.56 L129.60,643.66 L129.09,642.75 L128.68,641.83 L128.38,640.91 L128.20,639.98 L128.12,639.05 L128.16,638.12 L128.31,637.18 L128.56,636.25 L128.93,635.32 L129.41,634.38 L130.00,633.45 L130.69,632.53 L131.49,631.60 L132.41,630.69 L133.42,629.77 L134.55,628.87 L135.77,627.97 L137.10,627.08 L138.54,626.20 L140.07,625.34 L141.70,624.48 L143.43,623.63 L145.25,622.80 L147.17,621.98 L149.18,621.18 L151.28,620.39 L153.47,619.62 L155.75,618.86 L158.10,618.12 L160.54,617.40 L163.06,616.70 L165.65,616.02 L168.32,615.36 L171.06,614.72 L173.86,614.10 L176.73,613.50 L179.67,612.93 L182.66,612.38 L185.71,611.86 L188.82,611.35 L191.98,610.88 L195.18,610.43 L198.43,610.00 L201.72,609.60 L205.05,609.23 L208.41,608.89 L211.80,608.57 L215.22,608.28 L218.67,608.02 L222.14,607.79 L225.62,607.58 L229.13,607.41 L232.64,607.26 L236.16,607.14 L239.68,607.06 L243.20,607.00 L246.72,606.97 L250.24,606.97 L253.74,607.00 L257.23,607.05 L260.71,607.14 L264.16,607.26 L267.60,607.40 L271.00,607.58 L274.37,607.78 L277.71,608.01 L281.02,608.27 L284.28,608.56 L287.50,608.88 L290.67,609.22 L293.80,609.59 L296.87,609.99 L299.88,610.41 L302.84,610.86 L305.73,611.34 L308.56,611.84 L311.32,612.36 L314.02,612.91 L316.64,613.48 L319.18,614.08 L321.65,614.69 L324.03,615.33 L326.34,615.99 L328.56,616.67 L330.69,617.38 L332.73,618.09 L334.68,618.83 L336.54,619.59 L338.30,620.36 L339.97,621.15 L341.53,621.95 L343.00,622.77 L344.37,623.60 L345.63,624.45 L346.79,625.30 L347.85,626.17 L348.80,627.05 L349.64,627.94 L350.37,628.84 L351.00,629.74 L351.51,630.65 L351.92,631.57 L352.22,632.49 L352.40,633.42 L352.48,634.35Z"/><path d="M349.26,634.21 L349.23,635.03 L349.09,635.86 L348.84,636.68 L348.49,637.51 L348.03,638.34 L347.46,639.17 L346.79,639.99 L346.02,640.82 L345.14,641.63 L344.15,642.45 L343.06,643.26 L341.88,644.06 L340.59,644.86 L339.20,645.65 L337.71,646.43 L336.13,647.20 L334.46,647.96 L332.69,648.71 L330.83,649.45 L328.88,650.18 L326.84,650.90 L324.72,651.60 L322.51,652.29 L320.23,652.96 L317.86,653.62 L315.42,654.26 L312.90,654.88 L310.32,655.49 L307.66,656.08 L304.94,656.65 L302.15,657.20 L299.30,657.73 L296.39,658.24 L293.43,658.73 L290.42,659.20 L287.35,659.65 L284.24,660.08 L281.09,660.48 L277.90,660.86 L274.67,661.22 L271.40,661.55 L268.11,661.86 L264.78,662.15 L261.44,662.41 L258.07,662.64 L254.68,662.85 L251.28,663.04 L247.87,663.20 L244.45,663.33 L241.03,663.44 L237.61,663.52 L234.19,663.58 L230.77,663.61 L227.37,663.61 L223.98,663.59 L220.60,663.55 L217.25,663.47 L213.91,663.37 L210.60,663.25 L207.33,663.10 L204.08,662.92 L200.87,662.72 L197.70,662.49 L194.57,662.24 L191.49,661.97 L188.45,661.67 L185.47,661.34 L182.54,660.99 L179.66,660.62 L176.85,660.23 L174.10,659.81 L171.41,659.37 L168.79,658.91 L166.25,658.42 L163.77,657.92 L161.37,657.40 L159.05,656.85 L156.81,656.29 L154.66,655.71 L152.58,655.11 L150.59,654.49 L148.70,653.85 L146.89,653.20 L145.17,652.53 L143.55,651.85 L142.02,651.15 L140.59,650.44 L139.26,649.72 L138.03,648.99 L136.90,648.24 L135.87,647.48 L134.95,646.71 L134.13,645.93 L133.41,645.15 L132.80,644.35 L132.29,643.55 L131.89,642.74 L131.60,641.93 L131.42,641.11 L131.34,640.29 L131.37,639.47 L131.51,638.64 L131.76,637.82 L132.11,636.99 L132.57,636.16 L133.14,635.33 L133.81,634.51 L134.58,633.68 L135.46,632.87 L136.45,632.05 L137.54,631.24 L138.72,630.44 L140.01,629.64 L141.40,628.85 L142.89,628.07 L144.47,627.30 L146.14,626.54 L147.91,625.79 L149.77,625.05 L151.72,624.32 L153.76,623.60 L155.88,622.90 L158.09,622.21 L160.37,621.54 L162.74,620.88 L165.18,620.24 L167.70,619.62 L170.28,619.01 L172.94,618.42 L175.66,617.85 L178.45,617.30 L181.30,616.77 L184.21,616.26 L187.17,615.77 L190.18,615.30 L193.25,614.85 L196.36,614.42 L199.51,614.02 L202.70,613.64 L205.93,613.28 L209.20,612.95 L212.49,612.64 L215.82,612.35 L219.16,612.09 L222.53,611.86 L225.92,611.65 L229.32,611.46 L232.73,611.30 L236.15,611.17 L239.57,611.06 L242.99,610.98 L246.41,610.92 L249.83,610.89 L253.23,610.89 L256.62,610.91 L260.00,610.95 L263.35,611.03 L266.69,611.13 L270.00,611.25 L273.27,611.40 L276.52,611.58 L279.73,611.78 L282.90,612.01 L286.03,612.26 L289.11,612.53 L292.15,612.83 L295.13,613.16 L298.06,613.51 L300.94,613.88 L303.75,614.27 L306.50,614.69 L309.19,615.13 L311.81,615.59 L314.35,616.08 L316.83,616.58 L319.23,617.10 L321.55,617.65 L323.79,618.21 L325.94,618.79 L328.02,619.39 L330.01,620.01 L331.90,620.65 L333.71,621.30 L335.43,621.97 L337.05,622.65 L338.58,623.35 L340.01,624.06 L341.34,624.78 L342.57,625.51 L343.70,626.26 L344.73,627.02 L345.65,627.79 L346.47,628.57 L347.19,629.35 L347.80,630.15 L348.31,630.95 L348.71,631.76 L349.00,632.57 L349.18,633.39 L349.26,634.21Z"/></g>
<path d="M177.2,581.5 L177.2,595.5" stroke="#111" stroke-width="2.2"/><path d="M174.5,597.5 L179.89999999999998,597.5 L178.39999999999998,595.5 L176.0,595.5 Z" fill="#555"/><path d="M175.52,605.57 L174.94,605.46 L174.38,605.32 L173.85,605.14 L173.35,604.94 L172.88,604.71 L172.45,604.46 L172.05,604.18 L171.71,603.89 L171.41,603.57 L171.16,603.24 L170.96,602.90 L170.82,602.54 L170.73,602.19 L170.70,601.82 L170.72,601.46 L170.81,601.10 L170.94,600.75 L171.13,600.40 L171.37,600.07 L171.67,599.75 L172.01,599.45 L172.39,599.17 L172.82,598.92 L173.29,598.69 L173.79,598.48 L174.32,598.30 L174.87,598.16 L175.44,598.04 L176.03,597.96 L176.63,597.91 L177.24,597.90 L177.84,597.92 L178.44,597.97 L179.03,598.06 L179.60,598.18 L180.15,598.33 L180.68,598.50 L181.17,598.71 L181.63,598.95 L182.06,599.21 L182.44,599.49 L182.77,599.79 L183.06,600.11 L183.29,600.44 L183.48,600.79 L183.61,601.15 L183.68,601.51 L183.70,601.87 L183.66,602.23 L183.57,602.59 L183.42,602.94 L183.21,603.28 L182.96,603.61 L182.65,603.92 L182.30,604.22 L181.90,604.49 L181.46,604.74 L180.99,604.97 L180.48,605.17 L179.95,605.33" stroke="#111" stroke-width="1.1" fill="none"/><path d="M177.44701870131453,606.9346003694429 L179.94701870131453,605.3346003694429 L178.74701870131454,607.9346003694429" stroke="#111" stroke-width="1" fill="none"/><path d="M239.5,553.7 L239.5,567" stroke="#111" stroke-width="2.2"/><path d="M236.8,569 L242.2,569 L240.7,567 L238.3,567 Z" fill="#555"/><path d="M237.82,578.37 L237.24,578.26 L236.68,578.12 L236.15,577.94 L235.65,577.74 L235.18,577.51 L234.75,577.26 L234.35,576.98 L234.01,576.69 L233.71,576.37 L233.46,576.04 L233.26,575.70 L233.12,575.34 L233.03,574.99 L233.00,574.62 L233.02,574.26 L233.11,573.90 L233.24,573.55 L233.43,573.20 L233.67,572.87 L233.97,572.55 L234.31,572.25 L234.69,571.97 L235.12,571.72 L235.59,571.49 L236.09,571.28 L236.62,571.10 L237.17,570.96 L237.74,570.84 L238.33,570.76 L238.93,570.71 L239.54,570.70 L240.14,570.72 L240.74,570.77 L241.33,570.86 L241.90,570.98 L242.45,571.13 L242.98,571.30 L243.47,571.51 L243.93,571.75 L244.36,572.01 L244.74,572.29 L245.07,572.59 L245.36,572.91 L245.59,573.24 L245.78,573.59 L245.91,573.95 L245.98,574.31 L246.00,574.67 L245.96,575.03 L245.87,575.39 L245.72,575.74 L245.51,576.08 L245.26,576.41 L244.95,576.72 L244.60,577.02 L244.20,577.29 L243.76,577.54 L243.29,577.77 L242.78,577.97 L242.25,578.13" stroke="#111" stroke-width="1.1" fill="none"/><path d="M239.74701870131454,579.734600369443 L242.24701870131454,578.134600369443 L241.04701870131456,580.734600369443" stroke="#111" stroke-width="1" fill="none"/><path d="M320,607.2 L320,620.6" stroke="#111" stroke-width="2.2"/><path d="M317.3,622.6 L322.7,622.6 L321.2,620.6 L318.8,620.6 Z" fill="#555"/><path d="M318.32,632.47 L317.74,632.36 L317.18,632.22 L316.65,632.04 L316.15,631.84 L315.68,631.61 L315.25,631.36 L314.85,631.08 L314.51,630.79 L314.21,630.47 L313.96,630.14 L313.76,629.80 L313.62,629.44 L313.53,629.09 L313.50,628.72 L313.52,628.36 L313.61,628.00 L313.74,627.65 L313.93,627.30 L314.17,626.97 L314.47,626.65 L314.81,626.35 L315.19,626.07 L315.62,625.82 L316.09,625.59 L316.59,625.38 L317.12,625.20 L317.67,625.06 L318.24,624.94 L318.83,624.86 L319.43,624.81 L320.04,624.80 L320.64,624.82 L321.24,624.87 L321.83,624.96 L322.40,625.08 L322.95,625.23 L323.48,625.40 L323.97,625.61 L324.43,625.85 L324.86,626.11 L325.24,626.39 L325.57,626.69 L325.86,627.01 L326.09,627.34 L326.28,627.69 L326.41,628.05 L326.48,628.41 L326.50,628.77 L326.46,629.13 L326.37,629.49 L326.22,629.84 L326.01,630.18 L325.76,630.51 L325.45,630.82 L325.10,631.12 L324.70,631.39 L324.26,631.64 L323.79,631.87 L323.28,632.07 L322.75,632.23" stroke="#111" stroke-width="1.1" fill="none"/><path d="M320.2470187013146,633.834600369443 L322.7470187013146,632.234600369443 L321.5470187013146,634.834600369443" stroke="#111" stroke-width="1" fill="none"/><path d="M187.3,590.8 L195,603" stroke="#111" stroke-width="1.4"/><path d="M195,603 L202.3,614.4" stroke="#111" stroke-width="3.2" stroke-linecap="round"/>
<g transform="matrix(0.331,0,0,0.3344,410.098,-35.628)"><g fill="none" stroke="#444" stroke-width="1.3" vector-effect="non-scaling-stroke"><path vector-effect="non-scaling-stroke" d="M681.39,427.19 L681.86,426.04 L682.41,424.90 L683.04,423.75 L683.75,422.62 L684.54,421.49 L685.40,420.37 L686.34,419.25 L687.36,418.14 L688.45,417.05 L689.62,415.96 L690.87,414.88 L692.19,413.82 L693.58,412.76 L695.04,411.72 L696.58,410.69 L698.18,409.67 L699.86,408.67 L701.61,407.68 L703.42,406.71 L705.30,405.75 L707.25,404.81 L709.26,403.89 L711.34,402.98 L713.47,402.09 L715.67,401.22 L717.93,400.37 L720.25,399.53 L722.62,398.72 L725.05,397.93 L727.54,397.15 L730.08,396.40 L732.67,395.67 L735.31,394.96 L738.00,394.28 L740.74,393.61 L743.52,392.97 L746.34,392.35 L749.21,391.76 L752.12,391.19 L755.07,390.65 L758.06,390.13 L761.08,389.63 L764.14,389.16 L767.23,388.72 L770.35,388.30 L773.49,387.91 L776.67,387.54 L779.87,387.20 L783.09,386.89 L786.34,386.61 L789.60,386.35 L792.88,386.12 L796.18,385.91 L799.50,385.73 L802.82,385.59 L806.16,385.46 L809.50,385.37 L812.85,385.30 L816.20,385.27 L819.56,385.26 L822.92,385.27 L826.28,385.32 L829.63,385.39 L832.98,385.49 L836.32,385.62 L839.65,385.78 L842.98,385.96 L846.29,386.17 L849.58,386.41 L852.86,386.68 L856.12,386.97 L859.36,387.29 L862.58,387.63 L865.78,388.01 L868.95,388.41 L872.09,388.83 L875.20,389.28 L878.28,389.76 L881.33,390.26 L884.34,390.79 L887.32,391.34 L890.26,391.91 L893.16,392.51 L896.02,393.14 L898.84,393.78 L901.61,394.45 L904.34,395.14 L907.02,395.86 L909.65,396.59 L912.23,397.35 L914.75,398.13 L917.23,398.93 L919.65,399.75 L922.01,400.59 L924.31,401.44 L926.56,402.32 L928.74,403.21 L930.87,404.13 L932.93,405.05 L934.93,406.00 L936.86,406.96 L938.72,407.94 L940.52,408.93 L942.25,409.94 L943.92,410.96 L945.51,411.99 L947.03,413.03 L948.48,414.09 L949.85,415.16 L951.15,416.24 L952.38,417.33 L953.54,418.43 L954.61,419.54 L955.61,420.65 L956.54,421.78 L957.39,422.91 L958.15,424.05 L958.85,425.19 L959.46,426.34 L959.99,427.49"/><path vector-effect="non-scaling-stroke" d="M681.39,427.19 L681.39,466.50 M959.99,427.49 L959.99,445.00"/><path vector-effect="non-scaling-stroke" d="M721.26,493.12 L718.41,492.32 L715.65,491.49 L712.98,490.63 L710.39,489.74 L707.91,488.82 L705.51,487.87 L703.22,486.89 L701.03,485.89 L698.94,484.85 L696.95,483.80 L695.08,482.71 L693.31,481.61 L691.66,480.48 L690.12,479.33 L688.70,478.15 L687.40,476.96 L686.22,475.75 L685.17,474.52 L684.23,473.27 L683.43,472.01 L682.75,470.74 L682.19,469.45 L681.77,468.15 L681.48,466.84 L681.32,465.52 L681.28,464.20 L681.38,462.87 L681.61,461.53 L681.97,460.19 L682.45,458.85 L683.06,457.52 L683.80,456.18 L684.66,454.84 L685.65,453.51 L686.76,452.19 L687.98,450.87 L689.32,449.56 L690.77,448.26 L692.33,446.98 L694.00,445.70 L695.77,444.43 L697.65,443.18 L699.62,441.94 L701.69,440.72 L703.85,439.51 L706.10,438.32 L708.43,437.15 L710.85,435.99 L713.35,434.86 L715.93,433.74 L718.59,432.64 L721.32,431.56 L724.12,430.49 L726.99,429.45 L729.93,428.43 L732.93,427.43 L736.00,426.46 L739.13,425.50 L742.32,424.57 L745.58,423.66 L748.89,422.77 L752.26,421.91 L755.69,421.08 L759.17,420.26 L762.70,419.48 L766.29,418.72 L769.92,417.99 L773.61,417.29 L777.34,416.63 L781.12,415.99 L784.93,415.38 L788.79,414.81 L792.69,414.27 L796.62,413.77 L800.58,413.30 L804.57,412.87 L808.58,412.48 L812.62,412.13 L816.67,411.81 L820.73,411.54 L824.80,411.31 L828.88,411.13 L832.95,410.98 L837.02,410.88 L841.08,410.82 L845.13,410.81 L849.15,410.84 L853.16,410.91 L857.13,411.03 L861.07,411.19 L864.97,411.40 L868.83,411.64 L872.65,411.93 L876.41,412.27 L880.12,412.64 L883.78,413.05 L887.37,413.51 L890.90,414.00 L894.37,414.53 L897.77,415.10 L901.09,415.70 L904.34,416.34 L907.52,417.01 L910.62,417.72 L913.64,418.46 L916.58,419.23 L919.44,420.03 L922.21,420.86 L924.90,421.73 L927.50,422.61 L930.02,423.53 L932.44,424.47 L934.77,425.44 L937.02,426.43 L939.17,427.45 L941.22,428.49 L943.18,429.56 L945.04,430.64 L946.79,431.75 L948.45,432.88 L950.00,434.03 L951.45,435.20 L952.78,436.39 L954.01,437.60 L955.12,438.82 L956.12,440.06 L957.00,441.32 L957.77,442.59 L958.41,443.88 L958.92,445.18 L959.31,446.49 L959.58,447.81 L959.72,449.14 L959.72,450.48 L959.60,451.82 L959.34,453.17 L958.95,454.52 L958.44,455.88 L957.78,457.23 L957.00,458.59 L956.09,459.94 L955.04,461.28 L953.87,462.63 L952.57,463.96 L951.14,465.29 L949.59,466.60 L947.92,467.90 L946.13,469.20 L944.23,470.47 L942.22,471.73 L940.09,472.98 L937.87,474.20 L935.54,475.41 L933.11,476.60 L930.58,477.76 L927.97,478.91 L925.27,480.03 L922.48,481.13 L919.62,482.20"/><path vector-effect="non-scaling-stroke" d="M721.44,487.85 L718.72,487.22 L716.09,486.55 L713.56,485.84 L711.13,485.10 L708.82,484.33 L706.61,483.53 L704.53,482.70 L702.55,481.84 L700.70,480.95 L698.96,480.03 L697.35,479.09 L695.86,478.13 L694.50,477.15 L693.25,476.15 L692.14,475.13 L691.14,474.09 L690.27,473.04 L689.52,471.97 L688.89,470.90 L688.38,469.81 L687.99,468.71 L687.72,467.61 L687.56,466.49 L687.53,465.37 L687.60,464.25 L687.79,463.12 L688.09,462.00 L688.50,460.86 L689.02,459.73 L689.64,458.60 L690.37,457.48 L691.20,456.35 L692.14,455.23 L693.17,454.11 L694.31,453.00 L695.54,451.89 L696.87,450.79 L698.29,449.70 L699.80,448.61 L701.41,447.54 L703.10,446.47 L704.88,445.42 L706.75,444.38 L708.70,443.35 L710.73,442.33 L712.84,441.32 L715.03,440.33 L717.29,439.35 L719.63,438.39 L722.04,437.44 L724.52,436.51 L727.07,435.59 L729.68,434.69 L732.36,433.81 L735.10,432.95 L737.89,432.10 L740.75,431.27 L743.66,430.46 L746.63,429.67 L749.65,428.90 L752.72,428.15 L755.84,427.42 L759.00,426.71 L762.22,426.02 L765.48,425.35 L768.78,424.70 L772.12,424.07 L775.50,423.47 L778.93,422.89 L782.39,422.33 L785.88,421.80 L789.41,421.30 L792.97,420.81 L796.56,420.36 L800.18,419.93 L803.82,419.53 L807.49,419.16 L811.18,418.82 L814.88,418.51 L818.60,418.23 L822.33,417.98 L826.07,417.76 L829.81,417.57 L833.56,417.42 L837.30,417.31 L841.03,417.23 L844.75,417.18 L848.46,417.17 L852.14,417.20 L855.81,417.26 L859.44,417.36 L863.04,417.50 L866.61,417.67 L870.13,417.88 L873.61,418.13 L877.03,418.41 L880.41,418.73 L883.73,419.08 L886.99,419.47 L890.18,419.89 L893.31,420.34 L896.37,420.83 L899.36,421.34 L902.28,421.89 L905.13,422.46 L907.90,423.07 L910.59,423.70 L913.21,424.35 L915.74,425.04 L918.20,425.74 L920.58,426.47 L922.89,427.22 L925.11,427.99 L927.25,428.79 L929.32,429.60 L931.31,430.43 L933.21,431.28 L935.04,432.15 L936.79,433.04 L938.46,433.94 L940.05,434.86 L941.56,435.80 L942.99,436.75 L944.34,437.72 L945.59,438.71 L946.77,439.71 L947.85,440.72 L948.84,441.75 L949.73,442.79 L950.53,443.85 L951.23,444.92 L951.82,446.00 L952.31,447.10 L952.68,448.21 L952.94,449.33 L953.08,450.46 L953.10,451.60 L953.00,452.74 L952.76,453.90 L952.39,455.06 L951.89,456.22 L951.26,457.38 L950.48,458.55 L949.57,459.71 L948.51,460.87 L947.31,462.03 L945.98,463.18 L944.50,464.32 L942.88,465.45 L941.13,466.57 L939.25,467.67 L937.23,468.76 L935.09,469.83 L932.82,470.87 L930.44,471.90 L927.95,472.90 L925.35,473.88 L922.65,474.83 L919.86,475.75"/><path vector-effect="non-scaling-stroke" d="M696.8,450.7 Q708.4,456.6 721.8,463.2"/><path vector-effect="non-scaling-stroke" d="M952,445.6 Q935.8,454.2 919.2,463.1"/><path vector-effect="non-scaling-stroke" d="M721.60,464.84 L721.59,464.84 L722.28,463.89 L723.10,462.95 L724.04,462.01 L725.11,461.08 L726.29,460.17 L727.59,459.26 L729.01,458.36 L730.54,457.48 L732.19,456.62 L733.95,455.77 L735.82,454.93 L737.80,454.11 L739.88,453.31 L742.06,452.54 L744.34,451.78 L746.72,451.04 L749.19,450.33 L751.75,449.64 L754.39,448.97 L757.12,448.33 L759.93,447.71 L762.82,447.12 L765.77,446.56 L768.80,446.03 L771.89,445.53 L775.05,445.05 L778.26,444.61 L781.52,444.19 L784.83,443.81 L788.19,443.46 L791.59,443.14 L795.02,442.86 L798.49,442.60 L801.98,442.38 L805.49,442.20 L809.03,442.05 L812.57,441.93 L816.13,441.84 L819.69,441.79 L823.26,441.78 L826.82,441.79 L830.37,441.85 L833.90,441.93 L837.42,442.05 L840.92,442.21 L844.39,442.40 L847.83,442.62 L851.24,442.88 L854.61,443.16 L857.93,443.48 L861.20,443.84 L864.42,444.22 L867.59,444.64 L870.70,445.08 L873.74,445.56 L876.71,446.07 L879.61,446.60 L882.44,447.16 L885.18,447.75 L887.85,448.37 L890.43,449.01 L892.92,449.68 L895.31,450.37 L897.62,451.09 L899.82,451.83 L901.92,452.59 L903.92,453.37 L905.81,454.17 L907.60,454.99 L909.27,455.82 L910.83,456.68 L912.27,457.54 L913.60,458.43 L914.81,459.32 L915.90,460.23 L916.87,461.15 L917.71,462.07 L918.43,463.01 L919.03,463.96 L919.50,464.91 L919.50,464.91 L919.50,494.80 L919.70,494.80 L919.62,495.84 L919.39,496.88 L919.01,497.91 L918.48,498.94 L917.79,499.96 L916.96,500.97 L915.98,501.98 L914.84,502.97 L913.57,503.95 L912.15,504.92 L910.59,505.87 L908.89,506.81 L907.05,507.72 L905.08,508.62 L902.98,509.49 L900.75,510.35 L898.40,511.18 L895.93,511.98 L893.34,512.75 L890.64,513.50 L887.84,514.22 L884.93,514.91 L881.91,515.57 L878.81,516.20 L875.61,516.79 L872.33,517.35 L868.97,517.88 L865.54,518.37 L862.03,518.82 L858.46,519.24 L854.83,519.62 L851.15,519.96 L847.43,520.26 L843.66,520.52 L839.85,520.74 L836.02,520.92 L832.16,521.07 L828.28,521.17 L824.39,521.23 L820.50,521.25 L816.61,521.23 L812.72,521.17 L808.84,521.07 L804.98,520.92 L801.15,520.74 L797.34,520.52 L793.57,520.26 L789.85,519.96 L786.17,519.62 L782.54,519.24 L778.97,518.82 L775.46,518.37 L772.03,517.88 L768.67,517.35 L765.39,516.79 L762.19,516.20 L759.09,515.57 L756.07,514.91 L753.16,514.22 L750.36,513.50 L747.66,512.75 L745.07,511.98 L742.60,511.18 L740.25,510.35 L738.02,509.49 L735.92,508.62 L733.95,507.72 L732.11,506.81 L730.41,505.87 L728.85,504.92 L727.43,503.95 L726.16,502.97 L725.02,501.98 L724.04,500.97 L723.21,499.96 L722.52,498.94 L721.99,497.91 L721.61,496.88 L721.38,495.84 L721.30,494.80 L721.60,494.80 Z" fill="#fff" stroke="none"/><path vector-effect="non-scaling-stroke" d="M721.59,464.84 L722.28,463.89 L723.10,462.95 L724.04,462.01 L725.11,461.08 L726.29,460.17 L727.59,459.26 L729.01,458.36 L730.54,457.48 L732.19,456.62 L733.95,455.77 L735.82,454.93 L737.80,454.11 L739.88,453.31 L742.06,452.54 L744.34,451.78 L746.72,451.04 L749.19,450.33 L751.75,449.64 L754.39,448.97 L757.12,448.33 L759.93,447.71 L762.82,447.12 L765.77,446.56 L768.80,446.03 L771.89,445.53 L775.05,445.05 L778.26,444.61 L781.52,444.19 L784.83,443.81 L788.19,443.46 L791.59,443.14 L795.02,442.86 L798.49,442.60 L801.98,442.38 L805.49,442.20 L809.03,442.05 L812.57,441.93 L816.13,441.84 L819.69,441.79 L823.26,441.78 L826.82,441.79 L830.37,441.85 L833.90,441.93 L837.42,442.05 L840.92,442.21 L844.39,442.40 L847.83,442.62 L851.24,442.88 L854.61,443.16 L857.93,443.48 L861.20,443.84 L864.42,444.22 L867.59,444.64 L870.70,445.08 L873.74,445.56 L876.71,446.07 L879.61,446.60 L882.44,447.16 L885.18,447.75 L887.85,448.37 L890.43,449.01 L892.92,449.68 L895.31,450.37 L897.62,451.09 L899.82,451.83 L901.92,452.59 L903.92,453.37 L905.81,454.17 L907.60,454.99 L909.27,455.82 L910.83,456.68 L912.27,457.54 L913.60,458.43 L914.81,459.32 L915.90,460.23 L916.87,461.15 L917.71,462.07 L918.43,463.01 L919.03,463.96 L919.50,464.91"/><path vector-effect="non-scaling-stroke" d="M721.60,464.84 L721.60,494.80 M919.50,464.91 L919.50,494.80"/><path vector-effect="non-scaling-stroke" d="M919.70,494.80 L919.65,495.63 L919.50,496.46 L919.26,497.29 L918.92,498.12 L918.48,498.94 L917.94,499.76 L917.31,500.57 L916.58,501.38 L915.76,502.18 L914.84,502.97 L913.84,503.76 L912.73,504.54 L911.54,505.30 L910.26,506.06 L908.89,506.81 L907.43,507.54 L905.89,508.26 L904.26,508.97 L902.55,509.67 L900.75,510.35 L898.88,511.01 L896.93,511.66 L894.91,512.29 L892.81,512.91 L890.64,513.50 L888.41,514.08 L886.10,514.64 L883.73,515.18 L881.30,515.70 L878.81,516.20 L876.26,516.68 L873.65,517.13 L871.00,517.57 L868.29,517.98 L865.54,518.37 L862.74,518.73 L859.90,519.07 L857.02,519.39 L854.10,519.69 L851.15,519.96 L848.18,520.20 L845.17,520.42 L842.14,520.61 L839.09,520.78 L836.02,520.92 L832.93,521.04 L829.84,521.13 L826.73,521.20 L823.62,521.24 L820.50,521.25 L817.38,521.24 L814.27,521.20 L811.16,521.13 L808.07,521.04 L804.98,520.92 L801.91,520.78 L798.86,520.61 L795.83,520.42 L792.82,520.20 L789.85,519.96 L786.90,519.69 L783.98,519.39 L781.10,519.07 L778.26,518.73 L775.46,518.37 L772.71,517.98 L770.00,517.57 L767.35,517.13 L764.74,516.68 L762.19,516.20 L759.70,515.70 L757.27,515.18 L754.90,514.64 L752.59,514.08 L750.36,513.50 L748.19,512.91 L746.09,512.29 L744.07,511.66 L742.12,511.01 L740.25,510.35 L738.45,509.67 L736.74,508.97 L735.11,508.26 L733.57,507.54 L732.11,506.81 L730.74,506.06 L729.46,505.30 L728.27,504.54 L727.16,503.76 L726.16,502.97 L725.24,502.18 L724.42,501.38 L723.69,500.57 L723.06,499.76 L722.52,498.94 L722.08,498.12 L721.74,497.29 L721.50,496.46 L721.35,495.63 L721.30,494.80 L721.35,493.97 L721.50,493.14 L721.74,492.31 L722.08,491.48 L722.52,490.66 L723.06,489.84 L723.69,489.03 L724.42,488.22 L725.24,487.42 L726.16,486.63 L727.16,485.84 L728.27,485.06 L729.46,484.30 L730.74,483.54 L732.11,482.79 L733.57,482.06 L735.11,481.34 L736.74,480.63 L738.45,479.93 L740.25,479.25 L742.12,478.59 L744.07,477.94 L746.09,477.31 L748.19,476.69 L750.36,476.10 L752.59,475.52 L754.90,474.96 L757.27,474.42 L759.70,473.90 L762.19,473.40 L764.74,472.92 L767.35,472.47 L770.00,472.03 L772.71,471.62 L775.46,471.23 L778.26,470.87 L781.10,470.53 L783.98,470.21 L786.90,469.91 L789.85,469.64 L792.82,469.40 L795.83,469.18 L798.86,468.99 L801.91,468.82 L804.98,468.68 L808.07,468.56 L811.16,468.47 L814.27,468.40 L817.38,468.36 L820.50,468.35 L823.62,468.36 L826.73,468.40 L829.84,468.47 L832.93,468.56 L836.02,468.68 L839.09,468.82 L842.14,468.99 L845.17,469.18 L848.18,469.40 L851.15,469.64 L854.10,469.91 L857.02,470.21 L859.90,470.53 L862.74,470.87 L865.54,471.23 L868.29,471.62 L871.00,472.03 L873.65,472.47 L876.26,472.92 L878.81,473.40 L881.30,473.90 L883.73,474.42 L886.10,474.96 L888.41,475.52 L890.64,476.10 L892.81,476.69 L894.91,477.31 L896.93,477.94 L898.88,478.59 L900.75,479.25 L902.55,479.93 L904.26,480.63 L905.89,481.34 L907.43,482.06 L908.89,482.79 L910.26,483.54 L911.54,484.30 L912.73,485.06 L913.84,485.84 L914.84,486.63 L915.76,487.42 L916.58,488.22 L917.31,489.03 L917.94,489.84 L918.48,490.66 L918.92,491.48 L919.26,492.31 L919.50,493.14 L919.65,493.97 L919.70,494.80Z"/></g><path vector-effect="non-scaling-stroke" d="M919.70,494.80 L919.62,495.84 L919.39,496.88 L919.01,497.91 L918.48,498.94 L917.79,499.96 L916.96,500.97 L915.98,501.98 L914.84,502.97 L913.57,503.95 L912.15,504.92 L910.59,505.87 L908.89,506.81 L907.05,507.72 L905.08,508.62 L902.98,509.49 L900.75,510.35 L898.40,511.18 L895.93,511.98 L893.34,512.75 L890.64,513.50 L887.84,514.22 L884.93,514.91 L881.91,515.57 L878.81,516.20 L875.61,516.79 L872.33,517.35 L868.97,517.88 L865.54,518.37 L862.03,518.82 L858.46,519.24 L854.83,519.62 L851.15,519.96 L847.43,520.26 L843.66,520.52 L839.85,520.74 L836.02,520.92 L832.16,521.07 L828.28,521.17 L824.39,521.23 L820.50,521.25 L816.61,521.23 L812.72,521.17 L808.84,521.07 L804.98,520.92 L801.15,520.74 L797.34,520.52 L793.57,520.26 L789.85,519.96 L786.17,519.62 L782.54,519.24 L778.97,518.82 L775.46,518.37 L772.03,517.88 L768.67,517.35 L765.39,516.79 L762.19,516.20 L759.09,515.57 L756.07,514.91 L753.16,514.22 L750.36,513.50 L747.66,512.75 L745.07,511.98 L742.60,511.18 L740.25,510.35 L738.02,509.49 L735.92,508.62 L733.95,507.72 L732.11,506.81 L730.41,505.87 L728.85,504.92 L727.43,503.95 L726.16,502.97 L725.02,501.98 L724.04,500.97 L723.21,499.96 L722.52,498.94 L721.99,497.91 L721.61,496.88 L721.38,495.84 L721.30,494.80 L721.38,493.76 L721.61,492.72 L721.99,491.69 L722.52,490.66 L723.21,489.64 L724.04,488.63 L725.02,487.62 L726.16,486.63 L727.43,485.65 L728.85,484.68 L730.41,483.73 L732.11,482.79 L733.95,481.88 L735.92,480.98 L738.02,480.11 L740.25,479.25 L742.60,478.42 L745.07,477.62 L747.66,476.85 L750.36,476.10 L753.16,475.38 L756.07,474.69 L759.09,474.03 L762.19,473.40 L765.39,472.81 L768.67,472.25 L772.03,471.72 L775.46,471.23 L778.97,470.78 L782.54,470.36 L786.17,469.98 L789.85,469.64 L793.57,469.34 L797.34,469.08 L801.15,468.86 L804.98,468.68 L808.84,468.53 L812.72,468.43 L816.61,468.37 L820.50,468.35 L824.39,468.37 L828.28,468.43 L832.16,468.53 L836.02,468.68 L839.85,468.86 L843.66,469.08 L847.43,469.34 L851.15,469.64 L854.83,469.98 L858.46,470.36 L862.03,470.78 L865.54,471.23 L868.97,471.72 L872.33,472.25 L875.61,472.81 L878.81,473.40 L881.91,474.03 L884.93,474.69 L887.84,475.38 L890.64,476.10 L893.34,476.85 L895.93,477.62 L898.40,478.42 L900.75,479.25 L902.98,480.11 L905.08,480.98 L907.05,481.88 L908.89,482.79 L910.59,483.73 L912.15,484.68 L913.57,485.65 L914.84,486.63 L915.98,487.62 L916.96,488.63 L917.79,489.64 L918.48,490.66 L919.01,491.69 L919.39,492.72 L919.62,493.76 L919.70,494.80Z" fill="none" stroke="#111" stroke-width="1.9"/></g>
</svg>
</body></html>
